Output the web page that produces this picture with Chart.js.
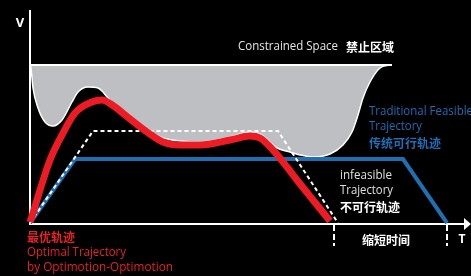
<!DOCTYPE html>
<html>
<head>
<meta charset="utf-8">
<script src="https://cdn.jsdelivr.net/npm/chart.js@4/dist/chart.umd.min.js"></script>
<style>
  html, body { margin: 0; padding: 0; background: #000; }
  #wrap { width: 471px; height: 276px; }
</style>
</head>
<body>
<div id="wrap"><canvas id="chart"></canvas></div>
<script>
// Optimal trajectory (red)
const optimalT = [0, 3, 10, 20, 32, 45, 62, 72, 85, 95, 117, 133, 150, 170, 200, 220, 230, 243, 257, 267, 283, 300];
const optimalV = [1, 10, 33, 63, 88, 110, 121, 123, 116, 108, 91, 81, 78, 78, 83, 87, 85, 73, 56, 43, 23, 2];

// Infeasible trajectory (white dashed)
const infeasibleT = [0, 63, 248, 308];
const infeasibleV = [0, 92, 92, 0];

// Traditional feasible trajectory (blue)
const traditionalT = [0, 45, 373, 417];
const traditionalV = [0, 64, 64, 0];

// Constrained space: lower boundary and flat top
const limitT = [0, 1, 3, 8, 15, 23, 32, 42, 48, 58, 68, 78, 88, 100, 117, 133, 150, 170, 200, 220, 230, 247, 260, 270, 283, 300, 313, 322, 328, 333, 340, 350, 360];
const limitV = [158, 155, 135, 115, 101, 97, 103, 121, 131, 136, 135, 125, 113, 106, 93, 85, 82, 81, 86, 91, 89, 75, 71, 68, 66, 69, 78, 91, 108, 125, 141, 155, 158];
const limitTopT = [0, 362];
const limitTopV = [158, 158];

// end times marked under the T axis
const endTicks = [304, 417];

const pts = (xs, ys) => xs.map((x, i) => ({ x: x, y: ys[i] }));

// axes, tick marks and labels
const decor = {
    id: 'decor',
    beforeDatasetsDraw(chart) {
        const ctx = chart.ctx;
        const sx = chart.scales.x, sy = chart.scales.y;
        const x0 = sx.getPixelForValue(0), y0 = sy.getPixelForValue(0);
        ctx.save();
        ctx.strokeStyle = '#fff';
        ctx.fillStyle = '#fff';
        ctx.lineWidth = 2;
        ctx.beginPath();
        ctx.moveTo(x0, 10);
        ctx.lineTo(x0, y0 + 1);
        ctx.lineTo(466, y0 + 1);
        ctx.stroke();
        ctx.beginPath();
        ctx.moveTo(471, y0 + 1);
        ctx.lineTo(464, y0 - 5);
        ctx.lineTo(464, y0 + 7);
        ctx.closePath();
        ctx.fill();
        ctx.setLineDash([6, 3]);
        endTicks.forEach(t => {
            const px = sx.getPixelForValue(t);
            ctx.beginPath();
            ctx.moveTo(px, y0 + 2);
            ctx.lineTo(px, y0 + 23);
            ctx.stroke();
        });
        ctx.restore();
    },
    afterDatasetsDraw(chart) {
        const ctx = chart.ctx;
        const en = '12px "Open Sans"';
        const cjk = 'bold 12px "Noto Sans CJK SC"';
        const notes = [
            ['V', 20, 23, '#fff', 'bold 13px "Open Sans"', 'center'],
            ['Constrained Space', 238, 47, '#e6e6e6', en, 'left', 100],
            ['禁止区域', 346, 47, '#fff', cjk, 'left'],
            ['Traditional Feasible', 369, 112, '#1f6db5', en, 'left', 104],
            ['Trajectory', 369, 127, '#1f6db5', en, 'left', 53],
            ['传统可行轨迹', 369, 143, '#1f6db5', cjk, 'left'],
            ['infeasible', 340, 176, '#e0e0e0', en, 'left', 52],
            ['Trajectory', 340, 191, '#e0e0e0', en, 'left', 53],
            ['不可行轨迹', 340, 207, '#fff', cjk, 'left'],
            ['缩短时间', 386, 240, '#fff', cjk, 'center'],
            ['T', 462, 240, '#fff', 'bold 12px "Open Sans"', 'center'],
            ['最优轨迹', 27, 237, '#e62129', cjk, 'left'],
            ['Optimal Trajectory', 27, 253, '#e62129', en, 'left', 99],
            ['by Optimotion-Optimotion', 27, 268, '#e62129', en, 'left', 146]
        ];
        ctx.save();
        ctx.textBaseline = 'middle';
        notes.forEach(n => {
            ctx.fillStyle = n[3];
            ctx.font = n[4];
            ctx.textAlign = n[5];
            if (n[6]) ctx.fillText(n[0], n[1], n[2], n[6]);
            else ctx.fillText(n[0], n[1], n[2]);
        });
        ctx.restore();
    }
};

new Chart(document.getElementById('chart'), {
    type: 'line',
    data: {
        datasets: [{
            label: 'Optimal Trajectory',
            data: pts(optimalT, optimalV),
            borderColor: '#ed1c24',
            borderWidth: 7,
            cubicInterpolationMode: 'monotone',
            borderCapStyle: 'butt'
        }, {
            label: 'Infeasible Trajectory',
            data: pts(infeasibleT, infeasibleV),
            borderColor: '#ffffff',
            borderWidth: 2,
            borderDash: [4, 3]
        }, {
            label: 'Traditional Feasible Trajectory',
            data: pts(traditionalT, traditionalV),
            borderColor: '#1f6fb2',
            borderWidth: 4
        }, {
            label: 'Constrained Space top',
            data: pts(limitTopT, limitTopV),
            borderColor: '#ffffff',
            borderWidth: 2
        }, {
            label: 'Constrained Space',
            data: pts(limitT, limitV),
            borderColor: '#ffffff',
            borderWidth: 1.5,
            backgroundColor: '#bebfc2',
            fill: { value: limitTopV[0] },
            cubicInterpolationMode: 'monotone'
        }]
    },
    options: {
        responsive: true,
        maintainAspectRatio: false,
        animation: false,
        layout: { padding: 0 },
        elements: { point: { radius: 0 }, line: { tension: 0 } },
        scales: {
            x: { type: 'linear', min: -30, max: 441, display: false },
            y: { type: 'linear', min: -53, max: 223, display: false }
        },
        plugins: {
            legend: { display: false },
            tooltip: { enabled: false }
        }
    },
    plugins: [decor]
});
</script>
</body>
</html>
